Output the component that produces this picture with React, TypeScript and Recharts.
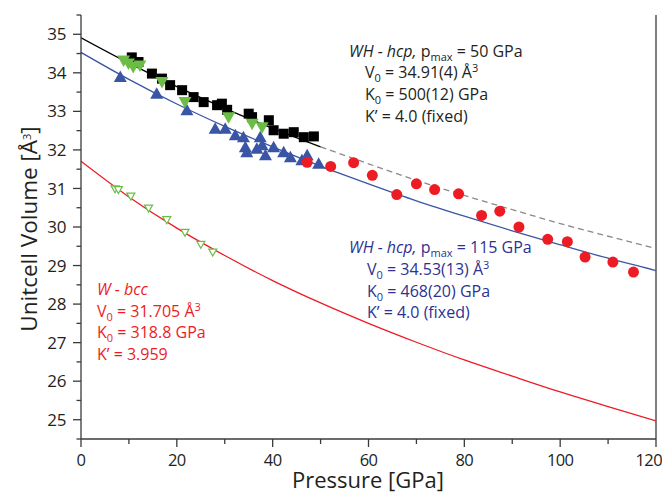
import React from 'react'
import {
  ComposedChart, Line, Scatter, XAxis, YAxis, ReferenceLine,
} from 'recharts'

// ---- data (pressure GPa, volume Å^3) ----
const hcp50Squares = [
  { p: 10.6, v: 34.40 }, { p: 12.0, v: 34.28 }, { p: 14.8, v: 33.98 }, { p: 16.9, v: 33.85 },
  { p: 18.6, v: 33.68 }, { p: 21.1, v: 33.55 }, { p: 23.5, v: 33.37 }, { p: 25.6, v: 33.24 },
  { p: 28.4, v: 33.16 }, { p: 29.4, v: 33.20 }, { p: 30.5, v: 33.04 }, { p: 35.0, v: 32.94 },
  { p: 35.7, v: 32.85 }, { p: 39.2, v: 32.77 }, { p: 40.2, v: 32.51 }, { p: 42.3, v: 32.42 },
  { p: 44.4, v: 32.46 }, { p: 46.5, v: 32.33 }, { p: 48.6, v: 32.35 },
]

const hcpGreenDown = [
  { p: 8.9, v: 34.32 }, { p: 9.9, v: 34.24 }, { p: 10.9, v: 34.15 }, { p: 12.3, v: 34.19 },
  { p: 16.9, v: 33.76 }, { p: 21.7, v: 33.24 }, { p: 30.8, v: 32.85 }, { p: 35.7, v: 32.68 },
  { p: 37.8, v: 32.59 },
]

const hcpBlueUp = [
  { p: 8.2, v: 33.89 }, { p: 15.8, v: 33.46 }, { p: 22.1, v: 33.03 }, { p: 28.0, v: 32.55 },
  { p: 30.1, v: 32.55 }, { p: 32.2, v: 32.38 }, { p: 33.9, v: 32.33 }, { p: 34.3, v: 32.07 },
  { p: 34.6, v: 31.94 }, { p: 36.7, v: 32.03 }, { p: 37.4, v: 32.33 }, { p: 37.8, v: 32.12 },
  { p: 38.5, v: 31.86 }, { p: 40.2, v: 32.07 }, { p: 42.3, v: 31.94 }, { p: 43.7, v: 31.81 },
  { p: 46.1, v: 31.73 }, { p: 47.2, v: 31.86 }, { p: 49.6, v: 31.64 },
]

const hcpRedCircles = [
  { p: 47.2, v: 31.68 }, { p: 52.1, v: 31.57 }, { p: 56.9, v: 31.67 }, { p: 60.8, v: 31.34 },
  { p: 65.9, v: 30.84 }, { p: 70.0, v: 31.12 }, { p: 73.8, v: 30.97 }, { p: 78.8, v: 30.86 },
  { p: 83.6, v: 30.30 }, { p: 87.4, v: 30.41 }, { p: 91.4, v: 30.00 }, { p: 97.4, v: 29.68 },
  { p: 101.5, v: 29.62 }, { p: 105.2, v: 29.22 }, { p: 111.0, v: 29.09 }, { p: 115.3, v: 28.83 },
]

const bccOpen = [
  { p: 7.1, v: 30.99 }, { p: 7.8, v: 30.97 }, { p: 10.4, v: 30.80 }, { p: 14.1, v: 30.49 },
  { p: 17.9, v: 30.19 }, { p: 21.7, v: 29.86 }, { p: 25.0, v: 29.55 }, { p: 27.5, v: 29.35 },
]

// fitted EOS curves as traced
const fit50Solid = [
  { p: 0, v: 34.91 }, { p: 10, v: 34.25 }, { p: 20, v: 33.64 }, { p: 30, v: 33.08 },
  { p: 40, v: 32.56 }, { p: 50, v: 32.08 },
]
const fit50Dashed = [
  { p: 50, v: 32.08 }, { p: 60, v: 31.64 }, { p: 70, v: 31.21 }, { p: 80, v: 30.82 },
  { p: 90, v: 30.45 }, { p: 100, v: 30.09 }, { p: 110, v: 29.76 }, { p: 120, v: 29.44 },
]
const fit115 = [
  { p: 0, v: 34.53 }, { p: 10, v: 33.83 }, { p: 20, v: 33.19 }, { p: 30, v: 32.61 },
  { p: 40, v: 32.08 }, { p: 50, v: 31.58 }, { p: 60, v: 31.12 }, { p: 70, v: 30.68 },
  { p: 80, v: 30.28 }, { p: 90, v: 29.90 }, { p: 100, v: 29.54 }, { p: 110, v: 29.19 },
  { p: 120, v: 28.87 },
]
const fitBcc = [
  { p: 0, v: 31.705 }, { p: 10, v: 30.78 }, { p: 20, v: 29.97 }, { p: 30, v: 29.26 },
  { p: 40, v: 28.61 }, { p: 50, v: 28.03 }, { p: 60, v: 27.50 }, { p: 70, v: 27.01 },
  { p: 80, v: 26.55 }, { p: 90, v: 26.13 }, { p: 100, v: 25.72 }, { p: 110, v: 25.34 },
  { p: 120, v: 24.97 },
]

const xTicks = [0, 10, 20, 30, 40, 50, 60, 70, 80, 90, 100, 110, 120]
const yTicks = [24.5, 25, 25.5, 26, 26.5, 27, 27.5, 28, 28.5, 29, 29.5, 30, 30.5, 31, 31.5,
  32, 32.5, 33, 33.5, 34, 34.5, 35, 35.5]

const FONT = '"Open Sans", sans-serif'
const AXIS = '#3a3a3a'
const TXT = '#231f20'
const BLUE = '#3a55a5'
const BLUE_TXT = '#2e3192'
const RED = '#ed1c24'
const GREEN = '#6cbd45'

const YTick = ({ x, y, payload }: any) => {
  const major = Number.isInteger(payload.value)
  return (
    <g>
      <line x1={x - (major ? 8 : 4.5)} x2={x} y1={y} y2={y} stroke={AXIS} strokeWidth={1.3} />
      {major && (
        <text x={x - 15} y={y} dy="0.36em" textAnchor="end" fontSize={17} fill={TXT} fontFamily={FONT}
          letterSpacing={-0.4}>
          {payload.value}
        </text>
      )}
    </g>
  )
}

const XTick = ({ x, y, payload }: any) => {
  const major = payload.value % 20 === 0
  const last = payload.value === 120
  return (
    <g>
      <line x1={x} x2={x} y1={y} y2={y + (major ? 8 : 5)} stroke={AXIS} strokeWidth={1.3} />
      {major && (
        <text x={last ? x + 6 : x} y={y + 27} textAnchor={last ? 'end' : 'middle'} fontSize={16.5}
          fill={TXT} fontFamily={FONT} letterSpacing={-0.6}>
          {payload.value}
        </text>
      )}
    </g>
  )
}

const Square = ({ cx, cy }: any) => (
  <rect x={cx - 5} y={cy - 5} width={10} height={10} fill="#000" />
)
const TriUp = ({ cx, cy }: any) => (
  <path d={`M${cx},${cy - 6.5} L${cx + 6.5},${cy + 5} L${cx - 6.5},${cy + 5} Z`} fill={BLUE} />
)
const TriDown = ({ cx, cy }: any) => (
  <path d={`M${cx - 6.5},${cy - 5} L${cx + 6.5},${cy - 5} L${cx},${cy + 6.5} Z`} fill={GREEN} />
)
const Dot = ({ cx, cy }: any) => <circle cx={cx} cy={cy} r={5.5} fill={RED} />
const OpenTri = ({ cx, cy }: any) => (
  <path d={`M${cx - 4},${cy - 3} L${cx + 4},${cy - 3} L${cx},${cy + 4} Z`} fill="#fff" stroke={GREEN} strokeWidth={1.2} />
)

const Sub = ({ children }: any) => (
  <tspan baselineShift="-4" fontSize={11}>{children}</tspan>
)
const Sup = ({ children }: any) => (
  <tspan baselineShift="6" fontSize={11}>{children}</tspan>
)

export default function App() {
  const W = 662
  const H = 485
  return (
    <div style={{ position: 'relative', width: W, height: H }}>
      <ComposedChart width={W} height={H} margin={{ top: 7, right: 14, bottom: 24, left: 13 }}>
        <XAxis
          type="number"
          dataKey="p"
          domain={[0, 120]}
          ticks={xTicks}
          interval={0}
          tick={<XTick />}
          tickSize={0}
          tickMargin={0}
          height={30}
          axisLine={{ stroke: AXIS, strokeWidth: 1.3 }}
          allowDataOverflow
        />
        <YAxis
          type="number"
          dataKey="v"
          domain={[24.5, 35.5]}
          ticks={yTicks}
          interval={0}
          tick={<YTick />}
          tickSize={0}
          tickMargin={0}
          width={60}
          axisLine={{ stroke: AXIS, strokeWidth: 1.3 }}
          allowDataOverflow
        />
        <ReferenceLine x={120} stroke={AXIS} strokeWidth={1.3} />
        <Scatter data={hcpBlueUp} dataKey="v" shape={<TriUp />} isAnimationActive={false} />
        <Scatter data={hcp50Squares} dataKey="v" shape={<Square />} isAnimationActive={false} />
        <Scatter data={hcpGreenDown} dataKey="v" shape={<TriDown />} isAnimationActive={false} />
        <Scatter data={hcpRedCircles} dataKey="v" shape={<Dot />} isAnimationActive={false} />
        <Scatter data={bccOpen} dataKey="v" shape={<OpenTri />} isAnimationActive={false} />
        <Line data={fit50Dashed} dataKey="v" type="monotone" stroke="#8a8a8a" strokeWidth={1.3}
          strokeDasharray="6 4" dot={false} isAnimationActive={false} />
        <Line data={fit50Solid} dataKey="v" type="monotone" stroke="#000" strokeWidth={1.3}
          dot={false} isAnimationActive={false} />
        <Line data={fit115} dataKey="v" type="monotone" stroke={BLUE} strokeWidth={1.3}
          dot={false} isAnimationActive={false} />
        <Line data={fitBcc} dataKey="v" type="monotone" stroke={RED} strokeWidth={1.3}
          dot={false} isAnimationActive={false} />
      </ComposedChart>

      <svg width={W} height={H} style={{ position: 'absolute', left: 0, top: 0, pointerEvents: 'none' }}
        fontFamily={FONT}>
        <g fill={TXT} fontSize={16}>
          <text x={341} y={49}>
            <tspan fontStyle="italic">WH - hcp,</tspan> p<Sub>max</Sub> = 50 GPa
          </text>
          <text x={357} y={70}>V<Sub>0</Sub> = 34.91(4) Å<Sup>3</Sup></text>
          <text x={357} y={92}>K<Sub>0</Sub> = 500(12) GPa</text>
          <text x={357} y={114}>K’ = 4.0 (fixed)</text>
        </g>
        <g fill={BLUE_TXT} fontSize={16}>
          <text x={341} y={245}>
            <tspan fontStyle="italic">WH - hcp,</tspan> p<Sub>max</Sub> = 115 GPa
          </text>
          <text x={359} y={267}>V<Sub>0</Sub> = 34.53(13) Å<Sup>3</Sup></text>
          <text x={359} y={289}>K<Sub>0</Sub> = 468(20) GPa</text>
          <text x={359} y={310}>K’ = 4.0 (fixed)</text>
        </g>
        <g fill={RED} fontSize={16}>
          <text x={89} y={287} fontStyle="italic">W - bcc</text>
          <text x={89} y={309}>V<Sub>0</Sub> = 31.705 Å<Sup>3</Sup></text>
          <text x={89} y={330}>K<Sub>0</Sub> = 318.8 GPa</text>
          <text x={89} y={352}>K’ = 3.959</text>
        </g>
        <text x={360} y={480} textAnchor="middle" fontSize={22} fill={TXT}>Pressure [GPa]</text>
        <text transform="translate(29,221) rotate(-90)" textAnchor="middle" fontSize={22.5} fill={TXT}>
          Unitcell Volume [Å<Sup>3</Sup>]
        </text>
      </svg>
    </div>
  )
}
